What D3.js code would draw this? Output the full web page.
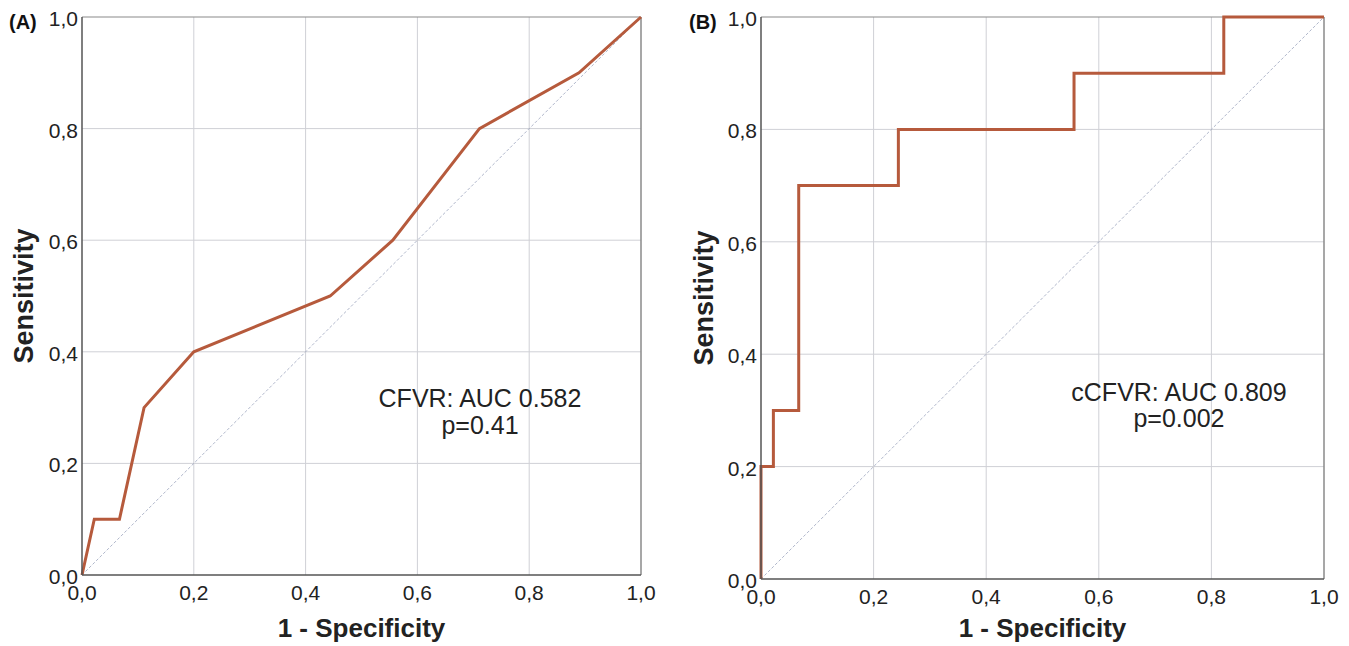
<!DOCTYPE html>
<html>
<head>
<meta charset="utf-8">
<script src="https://cdn.jsdelivr.net/npm/d3@7"></script>
<style>
  body { margin: 0; background: #fff; }
  svg { font-family: "Liberation Sans", Arial, sans-serif; }
</style>
</head>
<body>
<svg id="chart" width="1349" height="646"></svg>
<script>
// Datos de las curvas ROC (1 - especificidad, sensibilidad)
const rocA_fpr = [0, 0.022, 0.067, 0.111, 0.2, 0.444, 0.556, 0.711, 0.889, 1];
const rocA_tpr = [0, 0.1, 0.1, 0.3, 0.4, 0.5, 0.6, 0.8, 0.9, 1];

const rocB_fpr = [0, 0, 0.022, 0.022, 0.067, 0.067, 0.244, 0.244, 0.556, 0.556, 0.822, 0.822, 1];
const rocB_tpr = [0, 0.2, 0.2, 0.3, 0.3, 0.7, 0.7, 0.8, 0.8, 0.9, 0.9, 1, 1];

const tickValues = [0, 0.2, 0.4, 0.6, 0.8, 1.0];
const tickLabels = ["0,0", "0,2", "0,4", "0,6", "0,8", "1,0"];

const panels = [
    { label: "(A)", x0: 82, x1: 641, y0: 17, y1: 575, fpr: rocA_fpr, tpr: rocA_tpr,
      note: ["CFVR: AUC 0.582", "p=0.41"], noteX: 480, noteY: 407, noteGap: 27, labelX: 9, ylabX: 33 },
    { label: "(B)", x0: 761, x1: 1324, y0: 17, y1: 579, fpr: rocB_fpr, tpr: rocB_tpr,
      note: ["cCFVR: AUC 0.809", "p=0.002"], noteX: 1179, noteY: 401, noteGap: 26, labelX: 689, ylabX: 713 }
];

const svg = d3.select("#chart");

panels.forEach(p => {
    const x = d3.scaleLinear().domain([0, 1]).range([p.x0, p.x1]);
    const y = d3.scaleLinear().domain([0, 1]).range([p.y1, p.y0]);
    const g = svg.append("g");

    // Cuadrícula
    g.selectAll("line.vgrid")
        .data(tickValues.slice(1, -1))
        .enter().append("line")
        .attr("x1", d => x(d)).attr("x2", d => x(d))
        .attr("y1", p.y0).attr("y2", p.y1)
        .attr("stroke", "#cfd0d6").attr("stroke-width", 1);
    g.selectAll("line.hgrid")
        .data(tickValues.slice(1, -1))
        .enter().append("line")
        .attr("x1", p.x0).attr("x2", p.x1)
        .attr("y1", d => y(d)).attr("y2", d => y(d))
        .attr("stroke", "#cfd0d6").attr("stroke-width", 1);

    // Diagonal de referencia
    g.append("line")
        .attr("x1", x(0)).attr("y1", y(0))
        .attr("x2", x(1)).attr("y2", y(1))
        .attr("stroke", "#9aa3bd").attr("stroke-width", 0.8)
        .attr("stroke-dasharray", "3,2");

    // Marco
    g.append("line").attr("x1", p.x0).attr("x2", p.x1).attr("y1", p.y0).attr("y2", p.y0)
        .attr("stroke", "#8a8a8a").attr("stroke-width", 1.2);
    g.append("line").attr("x1", p.x1).attr("x2", p.x1).attr("y1", p.y0).attr("y2", p.y1)
        .attr("stroke", "#8a8a8a").attr("stroke-width", 1.5);

    // Curva ROC
    const pts = p.fpr.map((v, i) => [v, p.tpr[i]]);
    g.append("path")
        .datum(pts)
        .attr("fill", "none")
        .attr("stroke", "#b65a3c")
        .attr("stroke-width", 3)
        .attr("stroke-linejoin", "miter")
        .attr("d", d3.line().x(d => x(d[0])).y(d => y(d[1])));

    // Ejes
    g.append("line").attr("x1", p.x0).attr("x2", p.x0).attr("y1", p.y0).attr("y2", p.y1)
        .attr("stroke", "#555").attr("stroke-width", 1.5);
    g.append("line").attr("x1", p.x0).attr("x2", p.x1).attr("y1", p.y1).attr("y2", p.y1)
        .attr("stroke", "#555").attr("stroke-width", 1.5);

    // Etiquetas de los ticks
    g.selectAll("text.ytick")
        .data(tickValues)
        .enter().append("text")
        .attr("x", p.x0 - 4)
        .attr("y", d => y(d) + 9)
        .attr("text-anchor", "end")
        .style("font-size", "21px")
        .attr("fill", "#222")
        .text((d, i) => tickLabels[i]);
    g.selectAll("text.xtick")
        .data(tickValues)
        .enter().append("text")
        .attr("x", d => x(d))
        .attr("y", p.y1 + 25)
        .attr("text-anchor", "middle")
        .style("font-size", "21px")
        .attr("fill", "#222")
        .text((d, i) => tickLabels[i]);

    // Títulos de ejes
    g.append("text")
        .attr("x", (p.x0 + p.x1) / 2)
        .attr("y", 637)
        .attr("text-anchor", "middle")
        .style("font-size", "26px")
        .style("font-weight", "bold")
        .attr("fill", "#222")
        .text("1 - Specificity");
    g.append("text")
        .attr("transform", `translate(${p.ylabX}, ${(p.y0 + p.y1) / 2}) rotate(-90)`)
        .attr("text-anchor", "middle")
        .style("font-size", "27px")
        .style("font-weight", "bold")
        .attr("fill", "#222")
        .text("Sensitivity");

    // Etiqueta del panel
    g.append("text")
        .attr("x", p.labelX)
        .attr("y", 29)
        .style("font-size", "20px")
        .style("font-weight", "bold")
        .attr("fill", "#111")
        .text(p.label);

    // Anotación AUC
    g.selectAll("text.note")
        .data(p.note)
        .enter().append("text")
        .attr("x", p.noteX)
        .attr("y", (d, i) => p.noteY + i * p.noteGap)
        .attr("text-anchor", "middle")
        .style("font-size", "25px")
        .attr("fill", "#222")
        .text(d => d);
});
</script>
</body>
</html>
